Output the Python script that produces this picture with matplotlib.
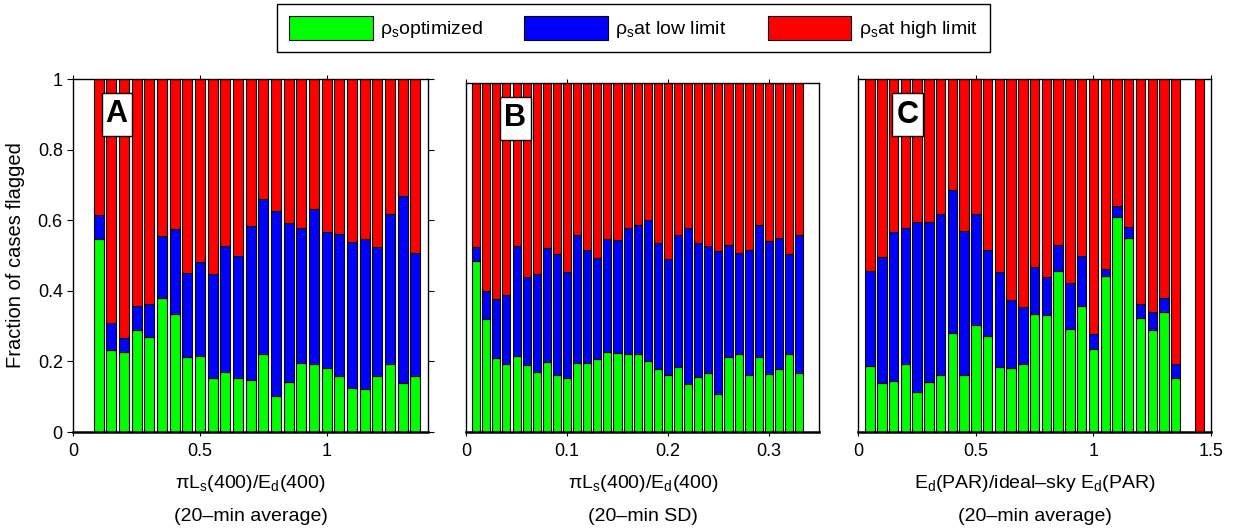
import numpy as np
import matplotlib
matplotlib.use('Agg')
import matplotlib.pyplot as plt
from matplotlib.patches import Patch, Rectangle

plt.rcParams['font.family'] = ['Liberation Sans', 'DejaVu Sans']
plt.rcParams['mathtext.fontset'] = 'custom'
plt.rcParams['mathtext.rm'] = 'Liberation Sans'
plt.rcParams['mathtext.it'] = 'Liberation Sans:italic'

# bin centres and flagged fractions for each panel
x_a = np.arange(0.10, 1.351, 0.05)
opt_a = [0.548, 0.232, 0.226, 0.288, 0.269, 0.381, 0.335, 0.212, 0.216, 0.153, 0.171, 0.154, 0.147,
         0.222, 0.102, 0.143, 0.195, 0.193, 0.182, 0.159, 0.125, 0.123, 0.160, 0.192, 0.138, 0.158]
low_a = [0.067, 0.076, 0.039, 0.070, 0.093, 0.175, 0.241, 0.238, 0.267, 0.294, 0.355, 0.346, 0.438,
         0.438, 0.525, 0.449, 0.384, 0.438, 0.385, 0.402, 0.413, 0.424, 0.365, 0.425, 0.532, 0.350]

x_b = np.arange(0.01, 0.3301, 0.01)
opt_b = [0.489, 0.324, 0.211, 0.195, 0.219, 0.192, 0.171, 0.200, 0.163, 0.156, 0.198, 0.199, 0.210,
         0.228, 0.226, 0.223, 0.223, 0.205, 0.181, 0.163, 0.186, 0.138, 0.158, 0.170, 0.109, 0.215,
         0.225, 0.164, 0.215, 0.166, 0.181, 0.224, 0.169]
low_b = [0.042, 0.081, 0.171, 0.198, 0.315, 0.252, 0.283, 0.327, 0.347, 0.302, 0.366, 0.322, 0.290,
         0.326, 0.324, 0.362, 0.370, 0.403, 0.361, 0.333, 0.378, 0.448, 0.385, 0.363, 0.411, 0.322,
         0.287, 0.359, 0.380, 0.381, 0.376, 0.287, 0.397]

x_c = list(np.arange(0.05, 1.351, 0.05)) + [1.45]
opt_c = [0.187, 0.139, 0.144, 0.193, 0.112, 0.141, 0.161, 0.280, 0.161, 0.302, 0.273, 0.183, 0.180,
         0.194, 0.334, 0.331, 0.456, 0.291, 0.358, 0.236, 0.441, 0.609, 0.550, 0.323, 0.289, 0.340,
         0.152, 0.0]
low_c = [0.270, 0.357, 0.423, 0.385, 0.482, 0.454, 0.458, 0.407, 0.409, 0.315, 0.242, 0.270, 0.195,
         0.161, 0.134, 0.109, 0.074, 0.131, 0.142, 0.043, 0.022, 0.032, 0.032, 0.040, 0.051, 0.040,
         0.040, 0.0]

xlabels = ['πL$_\\mathrm{s}$(400)/E$_\\mathrm{d}$(400)\n(20–min average)',
           'πL$_\\mathrm{s}$(400)/E$_\\mathrm{d}$(400)\n(20–min SD)',
           'E$_\\mathrm{d}$(PAR)/ideal–sky E$_\\mathrm{d}$(PAR)\n(20–min average)']
panel_names = ['A', 'B', 'C']
legend_names = ['ρ$_\\mathrm{s}$optimized', 'ρ$_\\mathrm{s}$at low limit', 'ρ$_\\mathrm{s}$at high limit']
colors = ['#00ff00', '#0000ff', '#ff0000']

fig = plt.figure(figsize=(12.33, 5.30), dpi=100)
ax_a = fig.add_axes([0.0594, 0.1849, 0.2877, 0.666])
ax_b = fig.add_axes([0.3780, 0.1849, 0.2865, 0.658])
ax_c = fig.add_axes([0.6961, 0.1849, 0.2861, 0.666])

# axes, x, opt, low, bin step, xlim, xticks, xticklabels, letter box (x0, y0, w, h) in axes units
panels = [(ax_a, x_a, opt_a, low_a, 0.05, (0, 1.4), [0, 0.5, 1], ['0', '0.5', '1'],
           (0.080, 0.839, 0.0846, 0.122)),
          (ax_b, x_b, opt_b, low_b, 0.01, (0, 0.35), [0, 0.1, 0.2, 0.3], ['0', '0.1', '0.2', '0.3'],
           (0.0962, 0.837, 0.0869, 0.1246)),
          (ax_c, x_c, opt_c, low_c, 0.05, (0, 1.5), [0, 0.5, 1, 1.5], ['0', '0.5', '1', '1.5'],
           (0.0964, 0.8386, 0.0862, 0.121))]

for i, (ax, x, opt, low, step, xl, xt, xtl, box) in enumerate(panels):
    opt = np.array(opt)
    low = np.array(low)
    high = 1 - opt - low
    w = 0.8 * step
    ax.bar(x, opt, width=w, color=colors[0], edgecolor='black', linewidth=0.8)
    ax.bar(x, low, width=w, bottom=opt, color=colors[1], edgecolor='black', linewidth=0.8)
    ax.bar(x, high, width=w, bottom=opt + low, color=colors[2], edgecolor='black', linewidth=0.8)
    ax.set_xlim(xl)
    ax.set_ylim(0, 1)
    ax.set_xticks(xt)
    ax.set_xticklabels(xtl, fontsize=13)
    ax.tick_params(axis='x', direction='out', length=3, top=True, pad=5)
    for s in ax.spines.values():
        s.set_linewidth(1.0)
    ax.spines['bottom'].set_linewidth(1.8)
    ax.set_xlabel(xlabels[i], fontsize=14, linespacing=2.1, labelpad=9)

    # boxed panel letter
    bx, by, bw, bh = box
    ax.add_patch(Rectangle((bx, by), bw, bh, transform=ax.transAxes, facecolor='white',
                           edgecolor='black', linewidth=1, zorder=5))
    ax.text(bx + bw / 2, by + bh / 2, panel_names[i], transform=ax.transAxes, fontsize=22,
            fontweight='bold', ha='center', va='center', zorder=6)

    if i == 0:
        ax.set_yticks([0, 0.2, 0.4, 0.6, 0.8, 1])
        ax.set_yticklabels(['0', '0.2', '0.4', '0.6', '0.8', '1'], fontsize=13)
        ax.tick_params(axis='y', direction='out', length=4, right=True)
        ax.set_ylabel('Fraction of cases flagged', fontsize=14.5, labelpad=9)
    else:
        ax.set_yticks([])

handles = [Patch(facecolor=c, edgecolor='black', linewidth=0.8) for c in colors]
fig.legend(handles, legend_names, loc='upper center', bbox_to_anchor=(0.5138, 0.992), ncol=3,
           fontsize=14, frameon=True, fancybox=False, edgecolor='black', framealpha=1,
           handlelength=4.3, handleheight=1.5, handletextpad=0.4, columnspacing=2.1,
           borderpad=0.6, borderaxespad=0)

fig.savefig('out.png', dpi=100)
